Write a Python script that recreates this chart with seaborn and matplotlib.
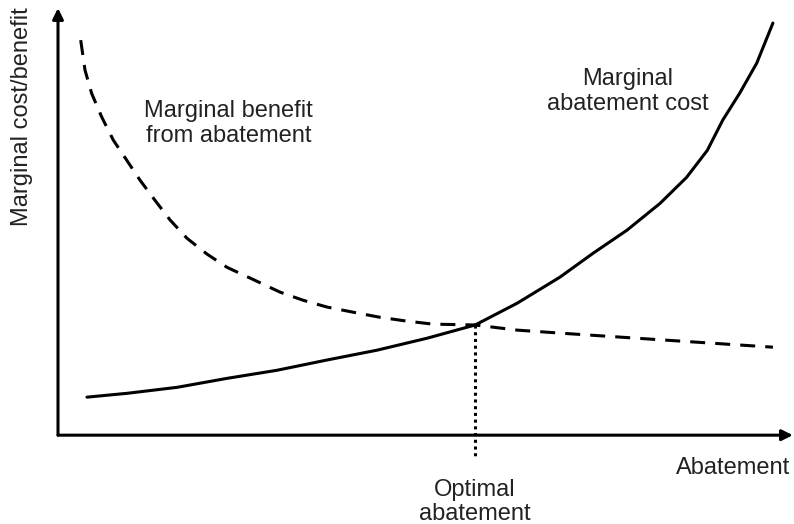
import numpy as np
import pandas as pd
import matplotlib
matplotlib.use('Agg')
import matplotlib.pyplot as plt
import seaborn as sns

# marginal benefit from abatement (dashed)
benefit_x = [3.08, 3.66, 4.57, 5.93, 7.50, 9.32, 11.13, 13.16, 15.20, 17.50,
             20.22, 22.93, 26.05, 30.12, 33.24, 36.50, 40.03, 43.69, 47.35,
             50.88, 56.6, 62.3, 68.1, 80.3, 97.0]
benefit_y = [92.5, 85.5, 80.0, 74.5, 69.1, 64.4, 59.7, 55.0, 50.4, 46.1,
             42.4, 39.3, 36.8, 33.5, 31.6, 30.0, 28.8, 27.6, 26.7,
             26.0, 25.8, 24.6, 23.9, 22.5, 20.6]

# marginal abatement cost (solid)
cost_x = [3.93, 9.36, 16.15, 22.93, 29.72, 36.50, 43.28, 50.07, 56.6, 62.3,
          68.1, 72.6, 77.2, 81.7, 85.3, 88.1, 90.2, 92.5, 94.8, 97.0]
cost_y = [8.9, 9.8, 11.2, 13.3, 15.2, 17.6, 19.9, 22.7, 25.8, 30.9,
          37.0, 42.6, 48.0, 54.3, 60.4, 66.7, 73.8, 80.1, 87.1, 96.5]

# optimum (where the curves cross)
optimum_x = 56.6
optimum_y = 25.8
dotted_bottom = -5.4

sns.set_theme(style='white')
plt.rcParams['font.family'] = ['Liberation Sans', 'DejaVu Sans']

fig = plt.figure(figsize=(7.94, 5.24), dpi=100)
ax = fig.add_axes([0, 0, 1, 1])

df_benefit = pd.DataFrame({'x': benefit_x, 'y': benefit_y})
df_cost = pd.DataFrame({'x': cost_x, 'y': cost_y})

sns.lineplot(data=df_benefit, x='x', y='y', ax=ax, color='black', lw=2.2,
             linestyle=(0, (4.9, 3.3)))
sns.lineplot(data=df_cost, x='x', y='y', ax=ax, color='black', lw=2.2)
ax.plot([optimum_x, optimum_x], [optimum_y, dotted_bottom], color='black',
        lw=2.2, linestyle=(0, (1, 1.2)))

# axes drawn as arrows
arrow = dict(arrowstyle='-|>', lw=2.2, color='black', mutation_scale=16,
             shrinkA=0, shrinkB=0)
ax.annotate('', xy=(99.7, 0), xytext=(0, 0), arrowprops=arrow)
ax.annotate('', xy=(0, 100), xytext=(0, 0), arrowprops=arrow)

ax.set_xlim(-7.87, 99.86)
ax.set_ylim(-20.8, 101.9)
ax.axis('off')

fs = 17
ax.text(23.1, 73.0, 'Marginal benefit\nfrom abatement', ha='center', va='center',
        fontsize=fs, color='#222222', linespacing=1.2)
ax.text(77.3, 80.5, 'Marginal\nabatement cost', ha='center', va='center',
        fontsize=fs, color='#222222', linespacing=1.2)
ax.text(91.6, -7.7, 'Abatement', ha='center', va='center', fontsize=fs,
        color='#222222')
ax.text(56.6, -15.6, 'Optimal\nabatement', ha='center', va='center',
        fontsize=fs, color='#222222', linespacing=1.15)
ax.text(-4.9, 74.5, 'Marginal cost/benefit', ha='center', va='center',
        rotation=90, fontsize=fs, color='#222222')

fig.savefig('out.png', dpi=100)
